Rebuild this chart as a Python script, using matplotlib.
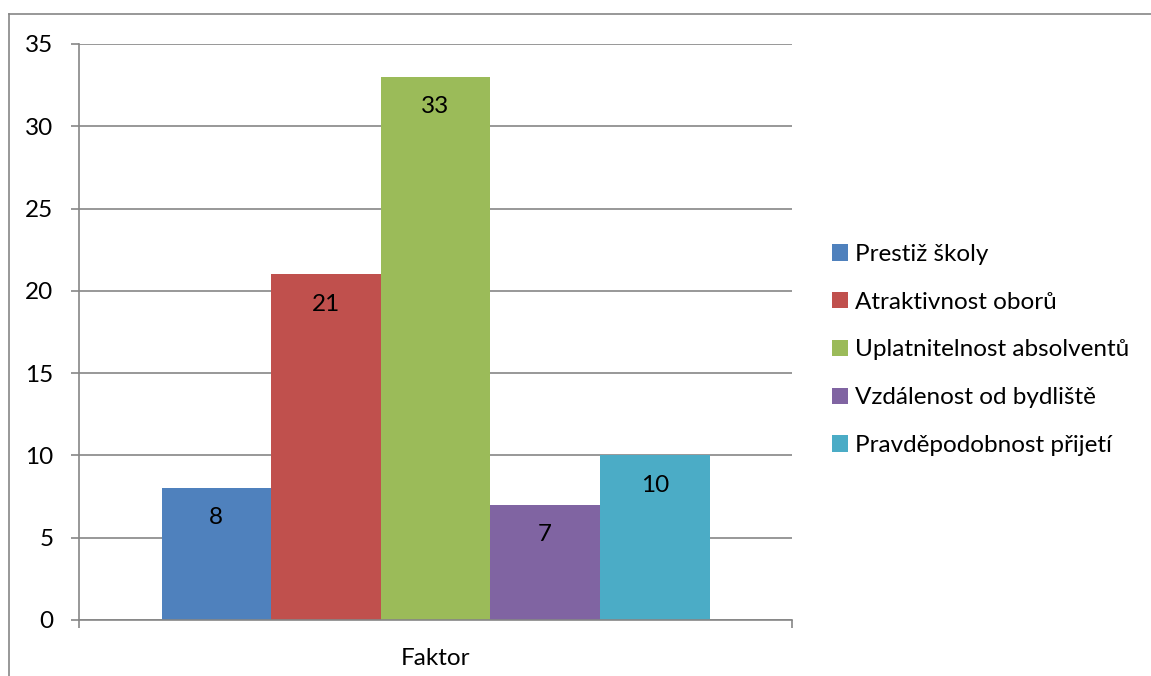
import matplotlib.pyplot as plt
from matplotlib.lines import Line2D
from matplotlib.patches import Patch

plt.rcParams['font.family'] = ['Lato', 'DejaVu Sans']

kategorie = ['Faktor']
faktory = ['Prestiž školy', 'Atraktivnost oborů', 'Uplatnitelnost absolventů',
           'Vzdálenost od bydliště', 'Pravděpodobnost přijetí']
hodnoty = [8, 21, 33, 7, 10]
barvy = ['#4F81BD', '#C0504D', '#9BBB59', '#8064A2', '#4BACC6']

W, H = 1151, 676
fs = 17.5
fig = plt.figure(figsize=(W / 100, H / 100), dpi=100)
ax = fig.add_axes([79 / W, 1 - 620 / H, (792 - 79) / W, (620 - 44) / H])

sirka = (548 / 713) / len(hodnoty)
for i, (f, v, c) in enumerate(zip(faktory, hodnoty, barvy)):
    x = 0.5 + (i - (len(hodnoty) - 1) / 2) * sirka
    ax.bar(x, v, width=sirka, color=c, label=f, zorder=2)
    ax.text(x, v - 1.8, str(v), ha='center', va='center', fontsize=fs, zorder=3)

ax.set_xlim(0, 1)
ax.set_ylim(0, 35)
ax.set_yticks(range(0, 36, 5))
ax.yaxis.grid(True, color='#868686', linewidth=1.2, zorder=0)
ax.set_xticks([0.5])
ax.set_xticklabels(kategorie)
ax.set_xticks([0, 1], minor=True)
ax.tick_params(axis='x', which='major', length=0, pad=20, labelsize=fs)
ax.tick_params(axis='x', which='minor', length=5.5, color='#868686', width=1.2)
ax.tick_params(axis='y', length=5.5, color='#868686', width=1.2, labelsize=fs, pad=13)
for s in ['top', 'right']:
    ax.spines[s].set_visible(False)
for s in ['left', 'bottom']:
    ax.spines[s].set_color('#868686')
    ax.spines[s].set_linewidth(1.2)

handles = [Patch(facecolor=c, label=f) for f, c in zip(faktory, barvy)]
fig.legend(handles=handles, loc='center left', bbox_to_anchor=(822 / W, 1 - 350 / H),
           frameon=False, fontsize=fs, handlelength=0.65, handleheight=0.65,
           handletextpad=0.3, labelspacing=1.1, borderaxespad=0)

# okraj grafu
fig.add_artist(Line2D([9 / W, 9 / W], [0, 1 - 14 / H], color='#868686', linewidth=1.2))
fig.add_artist(Line2D([9 / W, 1], [1 - 14 / H, 1 - 14 / H], color='#868686', linewidth=1.2))

fig.savefig('out.png', dpi=100)
